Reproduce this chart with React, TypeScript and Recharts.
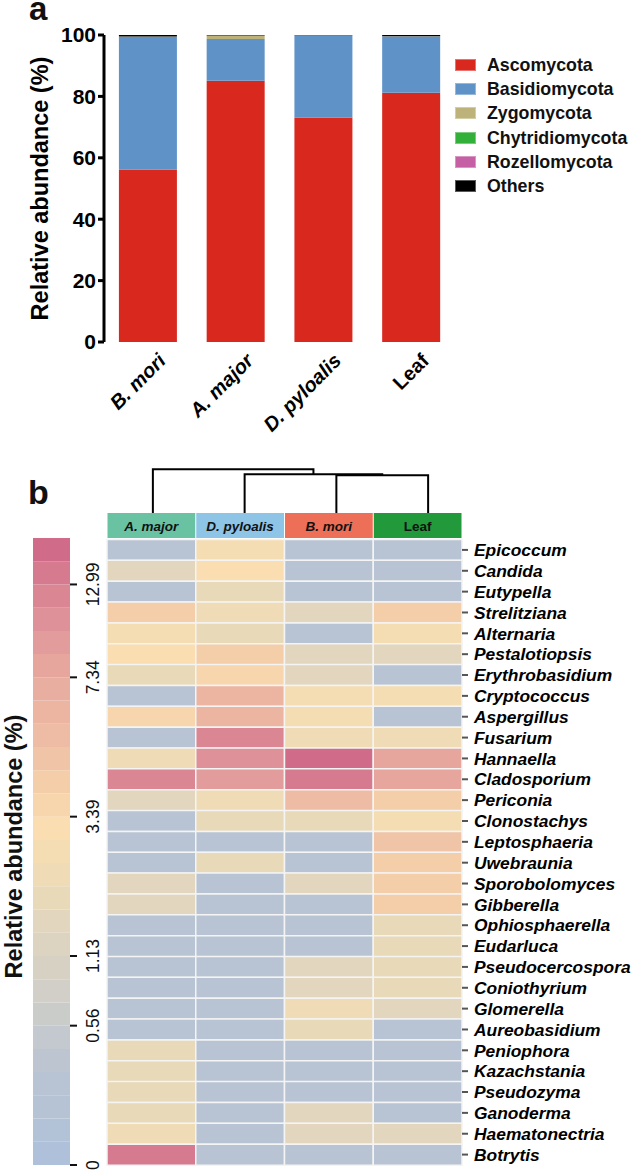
import React from 'react';
import { BarChart, Bar, XAxis, YAxis, Legend, Cell, LineChart, Line, Label } from 'recharts';

const FONT = '"Liberation Sans", Arial, Helvetica, sans-serif';

// ---------- Panel a ----------
const samplesA = ['B. mori', 'A. major', 'D. pyloalis', 'Leaf'];
const phyla = ['Ascomycota', 'Basidiomycota', 'Zygomycota', 'Chytridiomycota', 'Rozellomycota', 'Others'];
const phylaColors = ['#D9291F', '#5F93C8', '#BDB27A', '#33B03A', '#C660A4', '#000000'];
const ascomycota = [56.2, 85.1, 73.1, 81.2];
const basidiomycota = [43.2, 13.6, 26.8, 18.3];
const zygomycota = [0.1, 1.1, 0.0, 0.1];
const chytridiomycota = [0, 0, 0, 0];
const rozellomycota = [0, 0, 0, 0];
const others = [0.5, 0.2, 0.1, 0.4];
const yTicksA = [0, 20, 40, 60, 80, 100];

const seriesA = [ascomycota, basidiomycota, zygomycota, chytridiomycota, rozellomycota, others];
const dataA = samplesA.map((s, i) => {
  const row: any = { sample: s };
  phyla.forEach((p, k) => { row[p] = seriesA[k][i]; });
  return row;
});

// ---------- Panel b ----------
const genera = ['Epicoccum', 'Candida', 'Eutypella', 'Strelitziana', 'Alternaria', 'Pestalotiopsis', 'Erythrobasidium',
  'Cryptococcus', 'Aspergillus', 'Fusarium', 'Hannaella', 'Cladosporium', 'Periconia', 'Clonostachys', 'Leptosphaeria',
  'Uwebraunia', 'Sporobolomyces', 'Gibberella', 'Ophiosphaerella', 'Eudarluca', 'Pseudocercospora', 'Coniothyrium',
  'Glomerella', 'Aureobasidium', 'Peniophora', 'Kazachstania', 'Pseudozyma', 'Ganoderma', 'Haematonectria', 'Botrytis'];
const hmColumns = ['A. major', 'D. pyloalis', 'B. mori', 'Leaf'];
const hmHeaderColors = ['#69C3A3', '#8EC4E6', '#EE6F58', '#229A3C'];
const aMajor = [0.3, 1.6, 0.3, 4.4, 2.8, 3.2, 2.2, 0.3, 3.7, 0.3, 2.4, 12.0, 1.6, 0.3, 0.3,
  0.3, 1.6, 1.6, 0.3, 0.3, 0.3, 0.3, 0.3, 0.3, 2.0, 2.0, 2.0, 2.0, 2.4, 13.7];
const dPyloalis = [2.8, 3.2, 2.0, 2.4, 2.0, 4.4, 3.7, 6.3, 6.3, 12.3, 10.9, 9.5, 2.4, 2.0, 0.3,
  2.0, 0.3, 0.3, 0.3, 0.3, 0.3, 0.3, 0.3, 0.3, 0.3, 0.3, 0.3, 0.3, 0.3, 0.3];
const bMori = [0.3, 0.3, 0.3, 1.6, 0.3, 1.6, 1.6, 2.8, 2.8, 2.4, 15.0, 13.7, 5.7, 2.0, 0.3,
  0.3, 1.6, 0.3, 0.3, 0.3, 1.6, 1.6, 2.4, 2.0, 0.3, 0.3, 0.3, 1.6, 1.6, 0.3];
const leaf = [0.3, 0.3, 0.3, 4.4, 2.8, 1.6, 0.3, 2.8, 0.3, 2.4, 8.0, 8.0, 4.4, 2.8, 5.0,
  4.4, 4.4, 4.4, 2.0, 2.0, 2.0, 2.0, 1.6, 0.3, 0.3, 0.3, 0.3, 0.3, 1.6, 0.3];
const hmValues = [aMajor, dPyloalis, bMori, leaf];

// dendrogram (columns order: A. major, D. pyloalis, B. mori, Leaf)
const dendroLeafX = [0.5, 1.5, 2.5, 3.5];
const dendroHeights = [0.862, 0.885, 1.0]; // (B. mori + Leaf), (+ D. pyloalis), (+ A. major)

// colour key
const cbTickValues = [0, 0.56, 1.13, 3.39, 7.34, 12.99];
const cbTickLabels = ['0', '0.56', '1.13', '3.39', '7.34', '12.99'];
const cbTickPos = [0, 6, 9, 15, 21, 25];
const cbColors = ['#AFC0DA', '#B2C2D7', '#B5C3D5', '#B8C4D3', '#BDC6D0', '#C3C9CE', '#CACCCA', '#D1CFC7', '#D7D1C4',
  '#DCD3C1', '#E2D6BF', '#E8D9B8', '#EFDCB6', '#F5DDB3', '#FADDB1', '#F8D6AD', '#F4CEA9', '#F0C4A6', '#EEBCA4',
  '#EBB5A2', '#E8AEA0', '#E6A69D', '#E29C9B', '#DE9198', '#DA8693', '#D57A8F', '#D06C89'];

function valueToPos(v: number) {
  for (let k = 1; k < cbTickValues.length; k++) {
    if (v <= cbTickValues[k]) {
      const t = (v - cbTickValues[k - 1]) / (cbTickValues[k] - cbTickValues[k - 1]);
      return cbTickPos[k - 1] + t * (cbTickPos[k] - cbTickPos[k - 1]);
    }
  }
  const n = cbTickValues.length - 1;
  const slope = (cbTickPos[n] - cbTickPos[n - 1]) / (cbTickValues[n] - cbTickValues[n - 1]);
  return cbTickPos[n] + (v - cbTickValues[n]) * slope;
}
function valueColor(v: number) {
  const b = Math.max(0, Math.min(cbColors.length - 1, Math.floor(valueToPos(v))));
  return cbColors[b];
}

const dataH = genera.map((g) => {
  const row: any = { genus: g };
  hmColumns.forEach((_, j) => { row['c' + j] = 1; });
  return row;
});

const cbRow: any = { name: 'key' };
cbColors.forEach((_, k) => { cbRow['b' + k] = 1; });
const dataCB = [cbRow];

const m1 = (dendroLeafX[2] + dendroLeafX[3]) / 2;
const m2 = (dendroLeafX[1] + m1) / 2;
const dendroLinks = [
  [{ x: dendroLeafX[2], y: 0 }, { x: dendroLeafX[2], y: dendroHeights[0] }, { x: dendroLeafX[3], y: dendroHeights[0] }, { x: dendroLeafX[3], y: 0 }],
  [{ x: dendroLeafX[1], y: 0 }, { x: dendroLeafX[1], y: dendroHeights[1] }, { x: m1, y: dendroHeights[1] }, { x: m1, y: dendroHeights[0] }],
  [{ x: dendroLeafX[0], y: 0 }, { x: dendroLeafX[0], y: dendroHeights[2] }, { x: m2, y: dendroHeights[2] }, { x: m2, y: dendroHeights[1] }],
];

// ---------- components ----------
const XTickA = (props: any) => {
  const { x, y, payload } = props;
  const tx = x + 19;
  const ty = y + 20;
  return (
    <text x={tx} y={ty} transform={`rotate(-45, ${tx}, ${ty})`} textAnchor="end" fontSize={20} fontWeight={700}
      fontStyle={payload.value === 'Leaf' ? 'normal' : 'italic'} fontFamily={FONT} fill="#000">{payload.value}</text>
  );
};

const LegendA = () => (
  <div style={{ fontFamily: FONT }}>
    {phyla.map((p, i) => (
      <div key={p} style={{ display: 'flex', alignItems: 'center', height: 24.2 }}>
        <span style={{ width: 21, height: 12, background: phylaColors[i], display: 'inline-block', marginRight: 11, boxSizing: 'border-box', border: '1px solid rgba(255,255,255,0.35)' }} />
        <span style={{ fontSize: 17.8, fontWeight: 700, color: '#111', lineHeight: '20px' }}>{p}</span>
      </div>
    ))}
  </div>
);

const HeaderTick = (props: any) => {
  const { x, y, index } = props;
  const w = typeof props.width === 'number' && props.width > 0 ? props.width : 355;
  const colW = w / hmColumns.length;
  const label = hmColumns[index];
  return (
    <g>
      <rect x={x - colW / 2 + 0.5} y={y - 26.5} width={colW - 1} height={25} fill={hmHeaderColors[index]} />
      <text x={x} y={y - 9} textAnchor="middle" fontSize={13.5} fontWeight={700} fontStyle={label === 'Leaf' ? 'normal' : 'italic'}
        fontFamily={FONT} fill="#111">{label}</text>
    </g>
  );
};

const CBTick = (props: any) => {
  const { x, y, payload } = props;
  const idx = cbTickPos.indexOf(payload.value);
  const tx = x + 20;
  return (
    <text x={tx} y={y} transform={`rotate(-90, ${tx}, ${y})`} textAnchor="middle" fontSize={17.5} fontFamily={FONT} fill="#111">
      {idx >= 0 ? cbTickLabels[idx] : ''}
    </text>
  );
};

export default function App() {
  return (
    <div style={{ position: 'absolute', left: 0, top: 0, width: 634, height: 1172, background: '#fff', fontFamily: FONT }}>
      <div style={{ position: 'absolute', left: 29, top: 0, fontSize: 33, lineHeight: '18px', fontWeight: 700, color: '#111' }}>a</div>
      <div style={{ position: 'absolute', left: 28, top: 482, fontSize: 34, lineHeight: '20px', fontWeight: 700, color: '#111' }}>b</div>

      {/* Panel a */}
      <div style={{ position: 'absolute', left: 0, top: 0 }}>
        <BarChart width={634} height={440} data={dataA} margin={{ top: 35, right: 179, left: 44, bottom: 28 }} barCategoryGap="17%">
          <XAxis dataKey="sample" axisLine={false} tickLine={false} tickSize={0} tickMargin={0} height={70} interval={0} tick={<XTickA />} />
          <YAxis domain={[0, 100]} ticks={yTicksA} width={60} interval={0}
            axisLine={{ stroke: '#000', strokeWidth: 3 }} tickLine={{ stroke: '#000', strokeWidth: 3 }} tickSize={6}
            tick={{ fill: '#000', fontSize: 21, fontWeight: 700, fontFamily: FONT }}>
            <Label content={(p: any) => {
              const vb = p.viewBox || { x: 44, y: 35, width: 60, height: 307 };
              const cx = vb.x + 4;
              const cy = vb.y + vb.height / 2;
              return <text x={cx} y={cy} transform={`rotate(-90, ${cx}, ${cy})`} textAnchor="middle" fontSize={23.5} fontWeight={700} fontFamily={FONT} fill="#000">Relative abundance (%)</text>;
            }} />
          </YAxis>
          <Legend layout="vertical" align="center" verticalAlign="middle" content={<LegendA />}
            wrapperStyle={{ left: 455, top: 53, width: 179, height: 150 }} />
          {phyla.map((p, i) => (
            <Bar key={p} dataKey={p} stackId="a" fill={phylaColors[i]} isAnimationActive={false} />
          ))}
        </BarChart>
      </div>

      {/* colour key */}
      <div style={{ position: 'absolute', left: 0, top: 530 }}>
        <BarChart width={110} height={642} data={dataCB} margin={{ top: 8, right: 0, left: 0, bottom: 7 }} barCategoryGap={0}>
          <XAxis dataKey="name" hide />
          <YAxis yAxisId="t" orientation="left" width={33} domain={[0, 1]} tick={false} axisLine={false} tickLine={false}>
            <Label content={(p: any) => {
              const vb = p.viewBox || { x: 0, y: 8, width: 33, height: 627 };
              const cx = vb.x + 22;
              const cy = vb.y + vb.height / 2 - 5;
              return <text x={cx} y={cy} transform={`rotate(-90, ${cx}, ${cy})`} textAnchor="middle" fontSize={23.5} fontWeight={700} fontFamily={FONT} fill="#111">Relative abundance (%)</text>;
            }} />
          </YAxis>
          <YAxis yAxisId="k" orientation="right" width={40} type="number" domain={[0, cbColors.length]} ticks={cbTickPos} interval={0}
            axisLine={false} tickLine={{ stroke: '#111', strokeWidth: 2 }} tickSize={7} tickMargin={2} tick={<CBTick />} />
          {cbColors.map((c, k) => (
            <Bar key={k} yAxisId="k" dataKey={'b' + k} stackId="cb" fill={c} isAnimationActive={false} />
          ))}
        </BarChart>
      </div>

      {/* dendrogram */}
      <div style={{ position: 'absolute', left: 107, top: 460 }}>
        <LineChart width={367} height={53} margin={{ top: 9.3, right: 0, left: 0, bottom: 0 }}>
          <XAxis type="number" dataKey="x" domain={[0, 4]} hide />
          <YAxis type="number" dataKey="y" domain={[0, 1]} hide />
          {dendroLinks.map((link, i) => (
            <Line key={i} data={link} dataKey="y" type="linear" stroke="#000" strokeWidth={2} dot={false} isAnimationActive={false} />
          ))}
        </LineChart>
      </div>

      {/* heatmap */}
      <div style={{ position: 'absolute', left: 0, top: 440 }}>
        <BarChart layout="vertical" width={634} height={732} data={dataH} margin={{ top: 69.5, right: 0, left: 107, bottom: 7 }} barCategoryGap={0}>
          <XAxis type="number" orientation="top" domain={[0, hmColumns.length]} ticks={[0.5, 1.5, 2.5, 3.5]} interval={0} height={30}
            axisLine={false} tickLine={false} tickSize={0} tickMargin={0} tick={<HeaderTick />} />
          <YAxis type="category" dataKey="genus" orientation="right" width={172} interval={0} axisLine={false}
            tickLine={{ stroke: '#555', strokeWidth: 2 }} tickSize={6} tickMargin={6}
            tick={{ fontSize: 17.4, fontWeight: 700, fontStyle: 'italic', fill: '#000', fontFamily: FONT }} />
          {hmColumns.map((c, j) => (
            <Bar key={c} dataKey={'c' + j} stackId="h" isAnimationActive={false} stroke="#F4F4F4" strokeWidth={1.5}>
              {dataH.map((_, i) => (
                <Cell key={i} fill={valueColor(hmValues[j][i])} />
              ))}
            </Bar>
          ))}
        </BarChart>
      </div>
    </div>
  );
}
